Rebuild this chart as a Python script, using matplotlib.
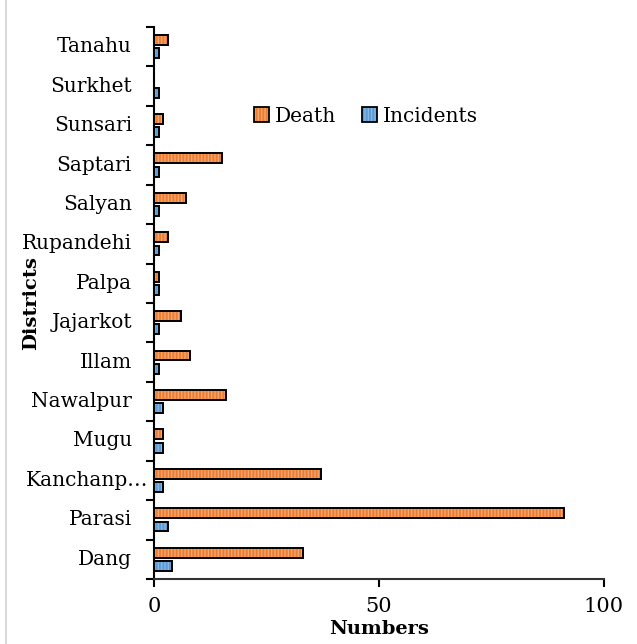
import matplotlib
matplotlib.use("Agg")
import matplotlib.pyplot as plt
import numpy as np
from matplotlib.patches import Patch
from matplotlib.lines import Line2D
from matplotlib.legend_handler import HandlerTuple
from matplotlib.transforms import blended_transform_factory, offset_copy

districts = ["Dang", "Parasi", "Kanchanp…", "Mugu", "Nawalpur", "Illam", "Jajarkot",
             "Palpa", "Rupandehi", "Salyan", "Saptari", "Sunsari", "Surkhet", "Tanahu"]
death = [33, 91, 37, 2, 16, 8, 6, 1, 3, 7, 15, 2, 0, 3]
incidents = [4, 3, 2, 2, 2, 1, 1, 1, 1, 1, 1, 1, 1, 1]
x_ticks = [0, 50, 100]

plt.rcParams["font.family"] = ["DejaVu Serif"]
plt.rcParams["hatch.linewidth"] = 0.9

orange = "#ED7D31"
orange_light = "#F4AA78"
blue = "#5B9BD5"
blue_light = "#8DB9E2"

fig = plt.figure(figsize=(6.37, 6.44), dpi=100)
ax = fig.add_axes([154 / 637, 1 - 579 / 644, (604 - 154) / 637, (579 - 27) / 644])

y = np.arange(len(districts))
h = 0.25
off = 0.17


def striped_bars(vals, ypos, face, stripe):
    ax.barh(ypos, vals, height=h, color=face, edgecolor=stripe, hatch="|||||",
            linewidth=0, zorder=2)
    ax.barh(ypos, vals, height=h, facecolor="none", edgecolor="black",
            linewidth=1.4, zorder=3)


striped_bars(death, y + off, orange, orange_light)
striped_bars(incidents, y - off, blue, blue_light)

ax.set_xlim(0, 100)
ax.set_ylim(-0.5, len(districts) - 0.5)
ax.set_xticks(x_ticks)
ax.set_xticklabels([str(t) for t in x_ticks], fontsize=15)
ax.tick_params(axis="x", length=6, width=1.5, direction="out", pad=7)

# category names; a truncated name is allowed to run closer to the axis
ax.set_yticks(y)
ax.set_yticklabels([])
ax.tick_params(axis="y", length=0)
ax.set_yticks(np.arange(-0.5, len(districts), 1), minor=True)
ax.tick_params(axis="y", which="minor", length=6, width=1.5, direction="out")
label_tf = blended_transform_factory(ax.transAxes, ax.transData)
for yi, name in zip(y, districts):
    gap = -6 if name.endswith("…") else -22
    ax.text(0, yi, name, fontsize=14.5, ha="right", va="center",
            transform=offset_copy(label_tf, fig=fig, x=gap, y=0, units="dots"))

for side in ["top", "right"]:
    ax.spines[side].set_visible(False)
ax.spines["left"].set_linewidth(1.5)
ax.spines["bottom"].set_linewidth(1.5)
ax.spines["bottom"].set_color("#333333")

ax.set_xlabel("Numbers", fontsize=14, fontweight="bold")
ax.xaxis.set_label_coords(0.5, (579 - 620) / 552)
ax.set_ylabel("Districts", fontsize=14, fontweight="bold")
ax.yaxis.set_label_coords((40 - 154) / 450, 0.5)

handles = [(Patch(facecolor=orange, edgecolor=orange_light, hatch="|||||", linewidth=0),
            Patch(facecolor="none", edgecolor="black", linewidth=1.3)),
           (Patch(facecolor=blue, edgecolor=blue_light, hatch="|||||", linewidth=0),
            Patch(facecolor="none", edgecolor="black", linewidth=1.3))]
leg = ax.legend(handles=handles, labels=["Death", "Incidents"],
                handler_map={tuple: HandlerTuple(ndivide=1, pad=0)},
                loc="center", bbox_to_anchor=(366 / 637, 1 - 116 / 644),
                bbox_transform=fig.transFigure, ncol=2, frameon=False, fontsize=14.5,
                handlelength=0.75, handleheight=0.75, handletextpad=0.3, columnspacing=1.3)

# light frame line at the left edge of the chart area
fig.add_artist(Line2D([6 / 637, 6 / 637], [0, 1], transform=fig.transFigure,
                      color="#d9d9d9", linewidth=1.5))

fig.savefig("out.png", dpi=100)
